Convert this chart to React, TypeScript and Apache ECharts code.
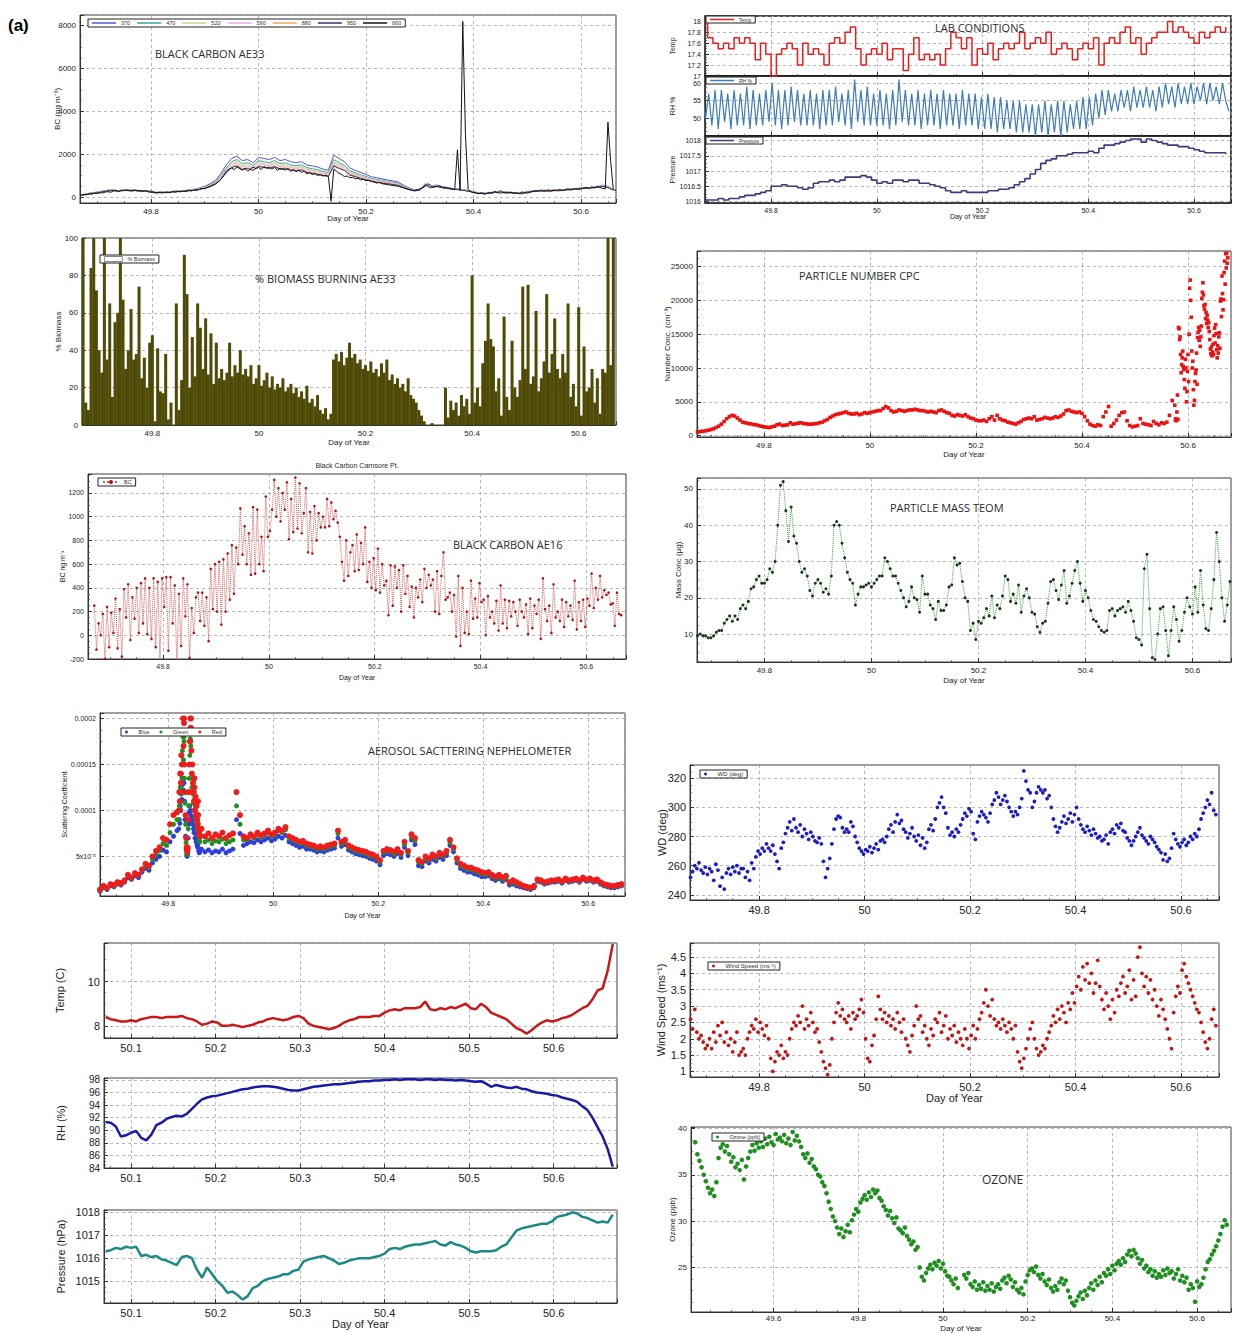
import { useEffect, useRef } from "react";
import * as echarts from "echarts";

const FONT = "'Liberation Sans', Arial, Helvetica, sans-serif";
const HEAD_FONT = "'Open Sans', 'Liberation Sans', sans-serif";

/* ---------------- Black carbon, AE33 aethalometer (ng m-3) ---------------- */
const AE33_T0 = 49.67;
const AE33_DT = 0.01; // 370 ... 950 nm channels
const AE33_DT_FINE = 0.005; // 660 nm channel
const ae33Channels = ["370", "470", "520", "590", "880", "950", "660"];
const ae33Bc370 = [
  100, 150, 200, 230, 280, 320, 330, 300, 340, 320,
  330, 300, 300, 240, 220, 240, 230, 270, 280, 300,
  330, 360, 420, 500, 620, 780, 1100, 1500, 1800, 1900,
  1700, 1750, 1600, 1850, 1800, 1750, 1850, 1700, 1750, 1650,
  1600, 1650, 1500, 1450, 1400, 1300, 1250, 1950, 1800, 1650,
  1350, 1250, 1150, 1050, 950, 900, 850, 800, 750, 700,
  550, 420, 330, 350, 620, 480, 560, 500, 450, 400,
  380, 350, 300, 250, 200, 180, 200, 250, 220, 240,
  220, 200, 180, 260, 280, 300, 320, 300, 330, 320,
  350, 380, 400, 420, 430, 450, 480, 550, 500, 350,
];
const ae33Bc470 = [
  90, 140, 190, 220, 270, 310, 320, 290, 330, 310,
  320, 290, 290, 230, 210, 230, 220, 260, 270, 290,
  320, 350, 400, 470, 580, 720, 1000, 1350, 1650, 1750,
  1550, 1600, 1480, 1700, 1650, 1600, 1700, 1560, 1600, 1500,
  1460, 1500, 1370, 1320, 1280, 1190, 1150, 1750, 1600, 1480,
  1220, 1130, 1040, 960, 870, 820, 780, 730, 690, 640,
  500, 390, 310, 340, 600, 460, 540, 480, 430, 390,
  370, 340, 290, 240, 190, 170, 190, 240, 210, 230,
  210, 190, 170, 250, 270, 290, 310, 290, 320, 310,
  340, 370, 390, 410, 420, 440, 470, 530, 480, 340,
];
const ae33Bc520 = [
  90, 135, 185, 215, 265, 305, 315, 285, 325, 305,
  315, 285, 285, 225, 205, 225, 215, 255, 265, 285,
  310, 340, 390, 450, 550, 690, 950, 1280, 1560, 1650,
  1460, 1510, 1400, 1610, 1560, 1510, 1610, 1470, 1510, 1420,
  1380, 1420, 1300, 1250, 1210, 1130, 1090, 1650, 1510, 1400,
  1150, 1070, 990, 910, 830, 780, 740, 700, 660, 610,
  480, 380, 300, 330, 590, 450, 530, 470, 420, 380,
  360, 330, 280, 235, 185, 165, 185, 235, 205, 225,
  205, 185, 165, 245, 265, 285, 305, 285, 315, 305,
  335, 365, 385, 405, 415, 435, 465, 520, 470, 335,
];
const ae33Bc590 = [
  85, 130, 180, 210, 260, 300, 310, 280, 320, 300,
  310, 280, 280, 220, 200, 220, 210, 250, 260, 280,
  305, 330, 380, 440, 530, 660, 910, 1230, 1500, 1590,
  1400, 1450, 1350, 1550, 1500, 1450, 1550, 1410, 1450, 1370,
  1330, 1370, 1250, 1210, 1170, 1090, 1050, 1590, 1450, 1350,
  1110, 1030, 950, 880, 800, 750, 710, 670, 630, 590,
  470, 370, 295, 325, 580, 445, 520, 460, 415, 375,
  355, 325, 275, 230, 180, 160, 180, 230, 200, 220,
  200, 180, 160, 240, 260, 280, 300, 280, 310, 300,
  330, 360, 380, 400, 410, 430, 460, 510, 460, 330,
];
const ae33Bc880 = [
  80, 125, 175, 205, 255, 295, 305, 275, 315, 295,
  305, 275, 275, 215, 195, 215, 205, 245, 255, 275,
  300, 320, 360, 420, 500, 620, 860, 1160, 1420, 1500,
  1320, 1370, 1280, 1460, 1420, 1370, 1460, 1330, 1370, 1300,
  1260, 1300, 1180, 1140, 1100, 1030, 990, 1500, 1370, 1280,
  1050, 980, 900, 830, 760, 710, 670, 640, 600, 560,
  450, 360, 290, 320, 570, 440, 510, 450, 410, 370,
  350, 320, 270, 225, 175, 155, 175, 225, 195, 215,
  195, 175, 155, 235, 255, 275, 295, 275, 305, 295,
  325, 355, 375, 395, 405, 425, 455, 500, 450, 325,
];
const ae33Bc950 = [
  80, 120, 170, 200, 250, 290, 300, 270, 310, 290,
  300, 270, 270, 210, 190, 210, 200, 240, 250, 270,
  295, 315, 350, 410, 480, 600, 830, 1120, 1370, 1450,
  1280, 1330, 1240, 1420, 1380, 1330, 1420, 1290, 1330, 1260,
  1220, 1260, 1140, 1100, 1060, 1000, 960, 1450, 1330, 1240,
  1020, 950, 870, 800, 740, 690, 650, 620, 580, 540,
  440, 350, 285, 315, 560, 430, 500, 440, 400, 360,
  345, 315, 265, 220, 170, 150, 170, 220, 190, 210,
  190, 170, 150, 230, 250, 270, 290, 270, 300, 290,
  320, 350, 370, 390, 400, 420, 450, 490, 440, 320,
];
const ae33Bc660 = [
  80, 120, 100, 150, 130, 180, 160, 200, 190, 230,
  250, 220, 280, 300, 260, 310, 290, 330, 300, 280,
  320, 290, 310, 270, 300, 260, 280, 230, 200, 220,
  190, 210, 230, 200, 250, 220, 260, 240, 280, 260,
  300, 280, 330, 310, 360, 400, 380, 450, 500, 560,
  620, 700, 820, 1000, 1200, 1300, 1350, 1280, 1400, 1320,
  1250, 1350, 1200, 1300, 1400, 1330, 1380, 1280, 1420, 1350,
  1400, 1300, 1380, 1250, 1350, 1300, 1260, 1320, 1200, 1280,
  1180, 1250, 1150, 1200, 1080, 1150, 1050, 1100, 1000, 1050,
  980, 1020, 950, -200, 1300, 1200, 1100, 1050, 950, 980,
  900, 920, 850, 880, 800, 820, 760, 780, 720, 700,
  650, 680, 620, 600, 580, 560, 540, 520, 500, 460,
  420, 380, 350, 320, 300, 340, 380, 420, 500, 620,
  550, 450, 480, 520, 480, 420, 450, 400, 380, 350,
  2200, 300, 8200, 2900, 350, 250, 200, 180, 150, 200,
  130, 170, 220, 180, 260, 200, 300, 220, 180, 200,
  220, 180, 200, 160, 240, 200, 180, 220, 260, 300,
  280, 320, 260, 300, 340, 280, 320, 300, 350, 300,
  340, 380, 320, 360, 400, 350, 380, 420, 450, 400,
  480, 420, 500, 450, 400, 380, 3500, 1700, 350, 300,
];

/* ---------------- % biomass burning, AE33 ---------------- */
const BIO_T0 = 49.67;
const BIO_DT = 0.005;
const biomassPct = [
  100, 12, 8, 84, 100, 72, 40, 28, 100, 35,
  65, 15, 55, 60, 100, 67, 30, 40, 62, 35,
  38, 74, 25, 36, 20, 44, 48, 2, 41, 18,
  17, 38, 3, 12, 0, 65, 8, 24, 91, 70,
  20, 47, 26, 65, 52, 30, 57, 27, 49, 22,
  44, 25, 30, 24, 28, 44, 26, 32, 28, 40,
  27, 30, 26, 32, 22, 25, 32, 21, 24, 28,
  20, 26, 19, 22, 20, 25, 18, 20, 22, 17,
  20, 15, 18, 14, 21, 12, 14, 10, 16, 8,
  6, 9, 3, 6, 35, 38, 34, 39, 32, 36,
  44, 36, 38, 33, 35, 30, 32, 29, 34, 28,
  30, 26, 33, 28, 35, 24, 27, 22, 25, 20,
  22, 18, 25, 16, 14, 12, 8, 5, 2, 0,
  0, 1, 0, 0, 0, 0, 20, 4, 13, 8,
  12, 5, 16, 10, 14, 6, 80, 12, 20, 10,
  33, 45, 65, 46, 42, 18, 25, 5, 58, 15,
  8, 45, 20, 15, 24, 74, 30, 75, 22, 26,
  61, 18, 25, 34, 70, 28, 38, 57, 30, 25,
  38, 28, 65, 15, 22, 10, 63, 5, 42, 18,
  20, 30, 12, 25, 6, 30, 28, 100, 32, 100,
];

/* ---------------- Black carbon, AE16 (ng m-3) ---------------- */
const AE16_T0 = 49.67;
const AE16_DT = 0.004;
const ae16Bc = [
  250, -120, 100, 0, 180, -200, 240, -100, 190, 20, 310, -110, 220, -180, 390, 150, 430, -40, 320, 140, 400, 20, 440, 100, 480,
  10, 400, -30, 480, -100, 450, -220, 480, 240, 490, -130, 490, 100, 420, -250, 350, -90, 480, 160, 430, -190, 230, 20, 320, 360,
  120, 360, 80, 320, -50, 560, 220, 600, 200, 620, 90, 640, 200, 690, 300, 760, 350, 740, 600, 1070, 680, 920, 600, 860, 510,
  1080, 520, 1060, 600, 830, 540, 1170, 830, 880, 1060, 1310, 1000, 1240, 960, 1200, 1060, 1290, 810, 1150, 870, 1330, 900, 1280, 860, 1030,
  1240, 700, 1040, 690, 1090, 800, 1030, 910, 1000, 910, 1150, 920, 1120, 980, 1050, 950, 830, 620, 460, 800, 500, 700, 760, 540, 850,
  550, 780, 600, 910, 450, 620, 400, 650, 380, 730, 360, 600, 420, 460, 170, 590, 250, 580, 400, 550, 200, 590, 350, 500, 240,
  410, 150, 400, 320, 470, 280, 560, 400, 510, 420, 470, 200, 540, 180, 500, 700, 300, 320, 360, 200, 340, -10, 500, -90, 400,
  20, 200, 10, 460, 140, 310, 150, 440, 280, 300, 0, 330, 150, 200, 100, 290, 40, 420, 100, 300, 60, 290, 160, 280, 200,
  80, 300, 200, 150, 260, 10, 310, 60, 250, 180, 300, -30, 480, 220, 120, 250, 20, 430, 150, 200, 120, 300, 70, 280, 160,
  250, 130, 460, 50, 280, 120, 300, 70, 310, 250, 520, 230, 400, 300, 500, 320, 380, 340, 360, 260, 270, 80, 360, 180, 170,
];

/* ---------------- Nephelometer scattering (Mm-1, i.e. 1e-6 m-1) ---------------- */
const NEPH_T0 = 49.67;
const NEPH_DT = 1 / 150;
const nephBlue = [
  12, 16, 14, 18, 17, 20, 19, 22, 27, 25,
  29, 27, 33, 37, 35, 43, 47, 50, 57, 55,
  66, 72, 78, 110, 135, 55, 90, 100, 80, 58,
  55, 57, 54, 56, 55, 58, 54, 56, 58, 90,
  75, 62, 64, 66, 65, 68, 66, 68, 70, 67,
  69, 72, 70, 73, 66, 64, 62, 60, 61, 58,
  58, 57, 55, 56, 55, 57, 58, 59, 70, 61,
  63, 57, 55, 53, 52, 51, 50, 48, 47, 45,
  41, 51, 53, 52, 50, 53, 49, 60, 51, 68,
  63, 40, 39, 45, 43, 47, 45, 49, 47, 51,
  62, 55, 43, 37, 35, 33, 33, 31, 30, 28,
  28, 29, 26, 24, 26, 23, 25, 19, 20, 18,
  17, 16, 15, 14, 16, 23, 22, 20, 21, 22,
  22, 23, 21, 24, 22, 23, 24, 22, 25, 23,
  24, 22, 23, 20, 18, 17, 16, 16, 17, 18,
];
const nephGreen = [
  13, 17, 15, 19, 18, 21, 20, 23, 29, 26,
  31, 29, 35, 40, 38, 47, 52, 56, 64, 62,
  76, 85, 90, 125, 180, 58, 175, 120, 95, 72,
  66, 68, 64, 67, 66, 69, 64, 66, 68, 105,
  85, 68, 68, 72, 70, 74, 71, 73, 76, 72,
  74, 78, 76, 79, 70, 68, 66, 64, 65, 62,
  61, 60, 58, 59, 58, 60, 61, 62, 75, 64,
  66, 60, 58, 56, 55, 54, 53, 51, 50, 48,
  44, 54, 56, 55, 53, 56, 52, 63, 54, 71,
  67, 44, 42, 48, 46, 50, 48, 52, 50, 54,
  65, 58, 46, 40, 38, 36, 36, 34, 33, 31,
  30, 31, 28, 26, 28, 25, 27, 21, 22, 20,
  19, 17, 16, 15, 17, 24, 23, 21, 22, 23,
  23, 24, 22, 25, 23, 24, 25, 23, 26, 24,
  25, 23, 24, 21, 19, 18, 17, 17, 18, 19,
];
const nephRed = [
  14, 18, 16, 20, 19, 22, 21, 24, 30, 27,
  32, 30, 36, 42, 40, 50, 56, 60, 70, 68,
  85, 95, 98, 140, 200, 60, 200, 135, 110, 80,
  72, 75, 70, 74, 72, 76, 70, 73, 75, 120,
  95, 72, 70, 74, 72, 76, 73, 75, 78, 74,
  76, 80, 78, 82, 72, 70, 68, 66, 67, 64,
  63, 62, 60, 61, 60, 62, 63, 64, 78, 66,
  68, 62, 60, 58, 57, 56, 55, 53, 52, 50,
  46, 56, 58, 57, 55, 58, 54, 66, 56, 74,
  70, 46, 44, 50, 48, 52, 50, 54, 52, 56,
  68, 60, 48, 42, 40, 38, 38, 36, 35, 33,
  32, 33, 30, 28, 30, 27, 29, 22, 24, 22,
  20, 18, 17, 16, 18, 25, 24, 22, 23, 24,
  24, 25, 23, 26, 24, 25, 26, 24, 27, 25,
  26, 24, 25, 22, 20, 19, 18, 18, 19, 20,
];
// one-minute values through the twin plume peaks
const NEPH_PEAK_T0 = 49.82;
const NEPH_PEAK_DT = 0.001;
const nephBluePeak = [80, 90, 86, 105, 100, 118, 112, 128, 135, 122, 130, 110, 90, 72, 58, 52, 50, 52, 70, 85, 98, 105, 100, 95, 90, 88, 92, 85, 80, 76, 82, 70, 75, 66, 70, 62, 60, 64, 56, 54, 55];
const nephGreenPeak = [90, 105, 100, 125, 118, 140, 135, 165, 180, 155, 175, 135, 108, 85, 65, 57, 52, 55, 80, 105, 135, 160, 178, 170, 150, 125, 135, 118, 108, 100, 112, 92, 104, 86, 95, 82, 78, 86, 72, 68, 66];
const nephRedPeak = [100, 120, 110, 140, 130, 160, 150, 185, 200, 170, 195, 150, 120, 95, 70, 60, 55, 58, 90, 120, 150, 175, 200, 190, 165, 140, 150, 130, 120, 110, 125, 100, 115, 95, 105, 90, 85, 95, 80, 75, 72];
const nephTickText: Record<number, string> = { 50: "5x10⁻⁵", 100: "0.0001", 150: "0.00015", 200: "0.0002" };

/* ---------------- Outdoor met station ---------------- */
const MET_T0 = 50.07;
const MET_DT = 0.006;
const metTempC = [
  8.4, 8.3, 8.25, 8.2, 8.2, 8.25, 8.2, 8.3, 8.35, 8.4,
  8.4, 8.35, 8.4, 8.4, 8.4, 8.45, 8.35, 8.3, 8.2, 8.05,
  8.1, 8.2, 8.15, 8.0, 8.0, 8.05, 8.0, 7.95, 8.0, 8.05,
  8.15, 8.2, 8.3, 8.35, 8.3, 8.25, 8.3, 8.4, 8.45, 8.35,
  8.1, 8.0, 7.95, 7.9, 7.85, 7.9, 8.0, 8.15, 8.25, 8.3,
  8.4, 8.4, 8.4, 8.45, 8.45, 8.6, 8.7, 8.75, 8.7, 8.8,
  8.8, 8.8, 8.85, 9.1, 8.75, 8.7, 8.8, 8.75, 8.85, 8.8,
  8.9, 9.0, 8.8, 8.75, 9.0, 8.85, 8.6, 8.5, 8.4, 8.3,
  8.1, 7.9, 7.8, 7.65, 7.8, 8.0, 8.15, 8.25, 8.2, 8.25,
  8.35, 8.4, 8.5, 8.65, 8.8, 8.9, 9.2, 9.6, 9.7, 10.5, 11.7,
];
const metRH = [
  91.3, 91.2, 90.6, 89.0, 89.2, 89.6, 89.9, 88.8, 88.4, 89.3,
  90.8, 91.2, 91.8, 92.1, 92.3, 92.2, 92.6, 93.4, 94.2, 94.9,
  95.2, 95.4, 95.5, 95.7, 95.9, 96.1, 96.3, 96.5, 96.6, 96.8,
  96.9, 97.0, 97.0, 96.9, 96.8, 96.6, 96.4, 96.3, 96.3, 96.5,
  96.7, 96.9, 97.0, 97.1, 97.2, 97.3, 97.3, 97.4, 97.5, 97.6,
  97.7, 97.8, 97.8, 97.9, 97.9, 98.0, 98.0, 98.1, 98.0, 98.1,
  98.1, 98.1, 98.0, 98.1, 98.1, 98.0, 98.1, 98.0, 98.0, 97.9,
  98.0, 97.9, 97.8, 97.7, 97.8, 97.4, 96.9, 97.2, 97.0, 96.8,
  96.7, 96.9, 96.6, 96.5, 96.2, 96.0, 95.9, 95.8, 95.6, 95.5,
  95.2, 95.0, 94.8, 94.5, 93.8, 93.2, 92.0, 90.5, 89.0, 87.0, 84.2,
];
const metPressure = [
  1016.3, 1016.35, 1016.45, 1016.4, 1016.5, 1016.45, 1016.5, 1016.1, 1016.15, 1016.05,
  1016.1, 1015.95, 1015.9, 1015.8, 1015.7, 1016.05, 1016.1, 1016.0, 1015.5, 1015.15,
  1015.6, 1015.3, 1015.0, 1014.8, 1014.5, 1014.55, 1014.4, 1014.2, 1014.35, 1014.7,
  1014.8, 1015.0, 1015.1, 1015.15, 1015.2, 1015.3, 1015.3, 1015.45, 1015.5, 1015.85,
  1015.95, 1016.0, 1016.05, 1016.1, 1016.0, 1015.9, 1015.75, 1015.8, 1015.9, 1015.95,
  1016.0, 1016.0, 1016.0, 1016.05, 1016.1, 1016.2, 1016.4, 1016.45, 1016.4, 1016.5,
  1016.55, 1016.6, 1016.6, 1016.65, 1016.7, 1016.75, 1016.6, 1016.55, 1016.7, 1016.6,
  1016.55, 1016.45, 1016.3, 1016.25, 1016.3, 1016.3, 1016.3, 1016.35, 1016.5, 1016.6,
  1016.9, 1017.2, 1017.3, 1017.35, 1017.4, 1017.45, 1017.5, 1017.5, 1017.6, 1017.8,
  1017.85, 1017.9, 1018.0, 1017.95, 1017.8, 1017.75, 1017.65, 1017.55, 1017.6, 1017.55, 1017.9,
];

/* ---------------- Laboratory conditions ---------------- */
const LAB_T0 = 49.67;
const LAB_DT = 0.01;
const LAB_RH_DT = 0.006;
const labTemp = [
  18.0, 17.7, 17.6, 17.5, 17.6, 17.5, 17.7, 17.6, 17.7, 17.6,
  17.3, 17.6, 17.4, 17.0, 17.4, 17.5, 17.6, 17.5, 17.2, 17.6,
  17.4, 17.5, 17.4, 17.2, 17.6, 17.7, 17.6, 17.8, 17.9, 17.5,
  17.2, 17.4, 17.5, 17.4, 17.6, 17.3, 17.5, 17.5, 17.1, 17.4,
  17.7, 17.3, 17.4, 17.3, 17.4, 17.2, 17.5, 17.8, 17.7, 17.5,
  17.7, 17.2, 17.5, 17.4, 17.6, 17.3, 17.5, 17.6, 17.5, 17.6,
  17.8, 17.5, 17.6, 17.7, 17.6, 17.8, 17.4, 17.5, 17.6, 17.5,
  17.3, 17.5, 17.6, 17.5, 17.7, 17.2, 17.6, 17.7, 17.6, 17.8,
  17.9, 17.6, 17.7, 17.4, 17.6, 17.7, 17.8, 17.8, 18.0, 17.8,
  17.9, 17.8, 17.7, 17.6, 17.8, 17.7, 17.8, 17.9, 17.8, 17.9,
];
const labRH = [
  56, 50, 57, 48, 58, 47, 58, 49, 57, 47, 58, 48, 57, 48, 59, 47, 58, 48, 57, 48,
  58, 49, 60, 48, 58, 47, 58, 48, 59, 49, 58, 48, 57, 48, 58, 48, 57, 47, 58, 48,
  58, 48, 59, 49, 57, 48, 58, 47, 61, 49, 58, 48, 59, 48, 57, 48, 58, 48, 57, 47,
  58, 48, 61, 49, 58, 48, 57, 48, 58, 47, 57, 48, 58, 48, 57, 47, 58, 48, 57, 48,
  57, 47, 58, 48, 57, 48, 57, 47, 56, 47, 57, 47, 56, 46, 56, 47, 55, 47, 55, 46,
  55, 46, 54, 46, 54, 45, 54, 46, 55, 45, 54, 46, 55, 45, 55, 46, 54, 47, 55, 47,
  56, 47, 56, 48, 57, 50, 58, 51, 58, 52, 57, 52, 58, 53, 58, 52, 59, 53, 58, 53,
  59, 53, 58, 52, 59, 53, 60, 54, 59, 53, 60, 54, 59, 54, 60, 54, 59, 55, 60, 54, 60, 55, 59, 54, 60, 55, 52,
];
const labPressure = [
  1016.05, 1016.05, 1016.05, 1016.1, 1016.05, 1016.1, 1016.1, 1016.15, 1016.2, 1016.2,
  1016.25, 1016.3, 1016.35, 1016.5, 1016.5, 1016.55, 1016.5, 1016.5, 1016.45, 1016.4,
  1016.45, 1016.6, 1016.65, 1016.65, 1016.7, 1016.65, 1016.7, 1016.8, 1016.8, 1016.8,
  1016.85, 1016.8, 1016.7, 1016.6, 1016.65, 1016.6, 1016.7, 1016.7, 1016.65, 1016.7,
  1016.7, 1016.6, 1016.6, 1016.55, 1016.5, 1016.45, 1016.35, 1016.3, 1016.3, 1016.35,
  1016.3, 1016.3, 1016.3, 1016.3, 1016.35, 1016.35, 1016.4, 1016.4, 1016.45, 1016.55,
  1016.65, 1016.75, 1016.9, 1017.05, 1017.25, 1017.35, 1017.4, 1017.5, 1017.5, 1017.55,
  1017.6, 1017.6, 1017.6, 1017.65, 1017.6, 1017.75, 1017.85, 1017.85, 1017.9, 1017.95,
  1018.0, 1018.05, 1018.05, 1017.95, 1018.05, 1018.0, 1017.95, 1017.9, 1017.85, 1017.85,
  1017.8, 1017.8, 1017.75, 1017.7, 1017.65, 1017.6, 1017.6, 1017.6, 1017.6, 1017.55,
];

/* ---------------- Particle number, CPC (cm-3) ---------------- */
const CPC_T0 = 49.67;
const CPC_DT = 0.005;
const CPC_BURST_T0 = 50.576;
const CPC_BURST_DT = 0.001;
const cpcNumber = [
  500, 550, 600, 650, 700, 800, 900, 1000, 1200, 1400,
  1700, 2100, 2500, 2800, 3000, 2900, 2600, 2300, 2000, 1900,
  1800, 1750, 1650, 1600, 1500, 1400, 1300, 1250, 1200, 1300,
  1400, 1600, 1700, 1500, 1550, 1600, 1900, 1700, 1750, 1850,
  1900, 1800, 1750, 1700, 1700, 1750, 1800, 1900, 2000, 2200,
  2400, 2700, 2900, 3100, 3200, 3300, 3400, 3500, 3300, 3200,
  3200, 3300, 3100, 3200, 3400, 3300, 3400, 3500, 3600, 3700,
  3700, 4000, 4300, 4100, 3700, 3500, 3600, 3800, 3700, 3600,
  3700, 3800, 3800, 3900, 3800, 3700, 3700, 3600, 3500, 3600,
  3500, 3400, 3700, 3800, 3600, 3400, 3300, 3000, 2900, 3100,
  3000, 2900, 3100, 2800, 2600, 2500, 2300, 2200, 2200, 2300,
  2100, 2500, 2800, 2300, 3000, 2500, 2300, 2200, 2000, 1900,
  1800, 1700, 1900, 2100, 2400, 2500, 2600, 2500, 2800, 2300,
  2400, 2500, 2700, 2600, 2500, 2600, 2800, 2700, 2900, 3200,
  3700, 3800, 3600, 3500, 3400, 3500, 3300, 2800, 2200, 1700,
  1500, 1400, 1600, 1500, 2800, 3500, 4300, 1400, 1800, 2300,
  3000, 3400, 3500, 2200, 1500, 1300, 1400, 1500, 2500, 1800,
  1700, 1600, 1500, 2100, 1800, 1600, 1900, 1800, 2000, 3000,
  5200, 4500,
];
const cpcBurst = [
  2300, 2500, 2200, 3500, 6000, 2400, 16000, 15800, 14200, 14600,
  12000, 9300, 10500, 11500, 12500, 10200, 9800, 8300, 7000, 11300,
  10000, 5000, 6500, 9500, 12000, 8000, 15000, 21800, 23000, 20000,
  17500, 12500, 10000, 11000, 6800, 4500, 5200, 8000, 9200, 9700,
  12200, 7600, 14500, 15300, 16000, 14100, 15600, 13200, 14600, 16200,
  20300, 21200, 22600, 20800, 19200, 18700, 19400, 17300, 18200, 16600,
  17800, 17100, 16000, 16700, 15400, 14200, 12800, 12100, 13100, 11800,
  12400, 13500, 12000, 14800, 15900, 13700, 16400, 15100, 12700, 11500,
  13300, 12200, 14600, 15200, 12900, 19900, 20200, 17600, 23600, 21000,
  18600, 20100, 24100, 25800, 22400, 26900, 24800, 27000, 25500, 26300,
];

/* ---------------- Particle mass, TEOM (ug) ---------------- */
const TEOM_T0 = 49.67;
const TEOM_DT = 0.005;
const teomMass = [
  8, 9.5, 10, 9.5, 9.5, 9, 9, 9.5, 10.5, 11,
  11, 13, 14, 15, 13.5, 15, 14, 17, 18, 17,
  19, 22.5, 23, 25, 26, 24, 24, 25, 28, 27,
  30, 40, 51, 52, 44, 35.5, 45, 37, 35, 30,
  27, 28, 26, 22, 20.5, 24, 25, 24, 21.5, 22.5,
  21, 26, 40, 41, 40, 35, 31, 27, 25, 24,
  18, 21, 23, 23, 23.5, 24, 23, 24, 25, 26,
  26, 31, 30, 28, 26, 26, 24, 22, 20, 17.5,
  19, 23, 20, 19.5, 16, 26, 21, 21, 18, 17,
  14, 19, 16.5, 16.5, 18, 23, 23.5, 31, 29, 29.5,
  24.5, 20, 19, 11, 13, 8.5, 13.5, 13, 14.5, 17,
  15, 20.5, 14.5, 18, 17, 20.5, 26, 25, 19, 21,
  18.5, 23.5, 16, 20.5, 22.5, 20, 16, 15.5, 12, 10.5,
  13, 13.5, 18.5, 24.5, 25, 22, 19.5, 23.5, 27.5, 18.5,
  20.5, 24, 27.5, 30, 24, 19, 22, 20, 16.5, 14,
  13.5, 12, 11, 10.5, 11, 16.5, 17, 15, 16.5, 17,
  17.5, 16, 19, 16.5, 13.5, 9, 8.5, 7, 28, 32,
  17, 3.5, 3, 10, 17, 17.5, 11, 4, 11, 17.5,
  14, 8, 11, 16, 20, 17.5, 15.5, 23, 16, 27.5,
  18, 11.5, 11, 17, 25, 38, 30, 20, 13.5, 18, 24.5,
];

/* ---------------- Wind ---------------- */
const WIND_T0 = 49.67;
const WIND_DT = 0.004;
const windDir = [
  252, 256, 260, 258, 262, 257, 255, 259, 254, 258, 256, 250, 261, 257, 246, 252, 244, 255, 258, 254, 259, 256, 260, 255, 258,
  258, 252, 256, 250, 262, 258, 266, 270, 268, 272, 270, 275, 272, 270, 274, 268, 263, 258, 272, 276, 282, 286, 290, 284, 292,
  286, 283, 288, 280, 285, 282, 278, 283, 280, 277, 276, 279, 275, 263, 252, 258, 265, 275, 285, 292, 294, 293, 286, 283, 285,
  283, 290, 287, 280, 276, 272, 270, 268, 271, 270, 273, 269, 272, 275, 271, 277, 278, 276, 280, 285, 288, 283, 290, 295, 289,
  291, 285, 283, 279, 282, 286, 280, 277, 281, 274, 279, 272, 276, 285, 288, 284, 292, 300, 303, 307, 300, 296, 286, 281, 283,
  280, 285, 283, 288, 292, 296, 294, 299, 297, 282, 278, 290, 294, 297, 295, 293, 290, 296, 302, 305, 310, 307, 302, 305, 308,
  304, 300, 297, 294, 297, 295, 300, 306, 325, 318, 312, 310, 300, 304, 310, 314, 312, 310, 312, 306, 308, 300, 292, 287, 283,
  286, 290, 294, 289, 292, 296, 290, 295, 300, 292, 288, 285, 283, 287, 284, 281, 285, 282, 279, 280, 277, 278, 281, 275, 283,
  285, 282, 288, 286, 289, 284, 283, 279, 277, 274, 277, 280, 283, 286, 281, 279, 277, 275, 280, 278, 276, 273, 271, 269, 264,
  268, 263, 265, 272, 282, 278, 275, 273, 276, 278, 274, 276, 280, 278, 282, 280, 285, 292, 296, 300, 305, 302, 310, 298, 295,
];
const windSpeed = [
  2.6, 2.3, 2.9, 2.2, 2.0, 2.1, 1.9, 1.7, 1.8, 2.0, 1.7, 2.2, 1.9, 2.4, 2.1, 2.5, 1.9, 2.2, 1.8, 2.0, 1.6, 1.9, 2.2, 1.5, 1.6,
  1.7, 1.5, 2.0, 2.2, 2.4, 2.3, 2.6, 2.2, 2.5, 2.3, 2.1, 2.4, 2.0, 1.4, 1.0, 1.3, 1.6, 1.5, 1.8, 1.4, 1.6, 1.5, 2.0, 2.3, 2.5,
  2.4, 2.7, 2.5, 3.0, 2.3, 2.6, 2.4, 2.8, 2.5, 2.2, 2.3, 1.9, 1.6, 1.3, 1.1, 0.9, 1.2, 2.0, 2.5, 2.8, 3.1, 2.7, 2.9, 2.6, 2.5,
  2.7, 2.3, 2.8, 2.6, 2.7, 2.9, 3.2, 2.8, 2.0, 1.4, 1.3, 1.8, 2.1, 2.6, 3.3, 2.9, 2.6, 2.8, 2.5, 2.7, 2.4, 2.6, 2.3, 2.8, 2.5,
  2.2, 2.6, 2.0, 1.8, 1.6, 2.1, 2.4, 3.0, 2.6, 2.7, 2.2, 2.4, 2.0, 1.8, 2.3, 2.1, 2.6, 2.5, 2.8, 2.2, 2.4, 2.7, 2.0, 2.3, 2.1,
  2.4, 1.9, 2.2, 2.0, 1.8, 2.3, 2.0, 1.7, 2.1, 2.4, 2.0, 2.3, 2.6, 2.8, 3.1, 3.5, 3.0, 2.7, 3.2, 2.6, 2.4, 2.5, 2.3, 2.6, 2.4,
  2.2, 2.5, 2.3, 2.0, 2.4, 1.6, 1.3, 1.1, 1.4, 1.7, 2.0, 2.3, 2.5, 2.0, 1.7, 1.5, 1.6, 1.8, 1.7, 2.0, 2.2, 2.4, 2.7, 2.5, 2.9,
  2.6, 3.0, 2.8, 2.5, 3.1, 2.9, 3.4, 3.1, 3.6, 3.9, 3.5, 4.2, 3.8, 4.3, 3.7, 4.0, 3.4, 3.7, 4.4, 3.6, 3.2, 2.9, 3.4, 3.0, 2.6,
  3.2, 2.8, 3.5, 3.3, 3.7, 3.9, 3.4, 3.6, 4.1, 3.2, 3.8, 3.3, 4.5, 4.8, 4.0, 3.6, 3.9, 3.4, 3.8, 3.2, 3.5, 3.0, 2.7, 3.2, 2.9,
  2.6, 2.3, 2.0, 1.7, 2.8, 3.3, 3.6, 3.4, 4.1, 4.3, 3.9, 3.7, 3.5, 3.3, 3.1, 2.9, 2.8, 2.5, 2.2, 1.9, 1.7, 2.0, 2.6, 2.9, 2.4,
];

/* ---------------- Ozone (ppb) ---------------- */
const OZ_T0 = 49.415;
const OZ_DT = 0.005;
const ozonePpb: (number | null)[] = [
  38.5, 37.2, 36.5, 35.8, 35.0, 34.3, 33.6, 33.0, 33.4, 32.7, 34.2, 36.8, 37.9, 38.3, 37.5, 38.1, 37.2, 36.4, 36.9, 35.8,
  36.2, 35.5, 36.6, 34.5, 35.9, 36.8, 37.5, 38.2, 37.6, 38.4, 37.9, 38.6, 38.0, 38.9, 38.3, 39.1, 38.5, 38.2, 39.4, 38.8,
  39.0, 38.6, 39.3, 38.4, 38.9, 38.2, 39.6, 38.7, 39.2, 38.6, 38.0, 37.2, 36.8, 37.3, 36.3, 36.7, 35.9, 35.6, 35.0, 34.8,
  34.2, 33.8, 33.0, 32.1, 31.3, 30.5, 30.0, 29.3, 28.6, 29.2, 28.3, 28.9, 29.6, 28.8, 30.1, 30.7, 31.3, 31.0, 32.0, 32.4,
  32.8, 32.3, 33.1, 32.6, 33.4, 33.0, 33.3, 32.5, 32.2, 31.6, 31.2, 30.6, 31.1, 30.3, 29.8, 30.4, 29.2, 29.0, 28.7, 29.3,
  28.4, 28.0, 27.5, 27.8, 26.9, 27.2, 25.0, 24.0, 23.6, 24.4, 24.9, 25.3, 24.8, 25.5, 25.2, 25.7, 24.9, 25.4, 24.6, 24.1,
  24.0, 23.6, 23.2, 23.8, 22.8, null, null, 24.2, 23.8, 24.4, 23.2, 22.9, 23.5, 22.6, 23.1, 22.7, 23.4, 22.5, 23.0, 22.6,
  23.3, 22.4, 22.9, 23.2, 22.7, 23.6, 23.9, 23.3, 24.1, 23.7, 22.9, 23.4, 22.6, 22.3, 22.8, 22.1, 23.5, 24.2, 24.7, 24.9,
  24.5, 25.1, 24.2, 23.8, 24.3, 23.5, 23.1, 23.7, 22.8, 22.4, 23.0, 22.6, 23.4, 23.8, 23.2, 23.6, 22.5, 21.8, 21.2, 20.9,
  21.4, 21.9, 22.3, 21.6, 22.5, 22.0, 22.8, 23.3, 22.6, 23.6, 23.1, 24.0, 23.4, 24.4, 24.1, 24.8, 24.3, 25.2, 24.7, 25.4,
  25.7, 25.3, 26.0, 25.6, 26.4, 26.8, 26.2, 26.9, 26.5, 26.0, 25.4, 25.8, 24.9, 25.2, 24.5, 24.8, 24.1, 24.6, 23.9, 24.3,
  24.0, 24.7, 24.2, 24.9, 24.4, 24.6, 23.8, 24.3, 24.8, 23.6, 24.1, 23.4, 23.9, 22.6, 23.2, 22.8, 21.3, 23.5, 22.9, 23.2,
  23.9, 24.8, 25.6, 25.9, 26.4, 26.8, 27.3, 27.9, 28.6, 29.4, 30.1, 29.6,
];

/* ---------------- helpers ---------------- */
type Spec = {
  min: number;
  max: number;
  step: number;
  showMin?: boolean;
  showMax?: boolean;
  size?: number;
  margin?: number;
  name?: string;
  gap?: number;
  nameSize?: number;
  hide?: boolean;
  fmt?: (v: number) => string;
};

// Regularly sampled record -> [day, value] pairs (gaps are null)
function timeSeries(t0: number, dt: number, vals: (number | null)[]) {
  const out: number[][] = [];
  vals.forEach((v, i) => {
    if (v !== null && v !== undefined) out.push([Math.round((t0 + dt * i) * 1e5) / 1e5, v]);
  });
  return out;
}

function makeAxis(gridIndex: number, s: Spec) {
  return {
    type: "value",
    gridIndex,
    min: s.min,
    max: s.max,
    minInterval: s.step,
    maxInterval: s.step,
    name: s.name ?? "",
    nameLocation: "middle",
    nameGap: s.gap ?? 20,
    nameMoveOverlap: false,
    nameTextStyle: { fontSize: s.nameSize ?? 8, color: "#222", fontFamily: FONT },
    axisLine: { show: true, onZero: false, lineStyle: { color: "#333", width: 1 } },
    axisTick: { show: true, inside: true, length: 4, lineStyle: { color: "#333", width: 1 } },
    minorTick: { show: true, splitNumber: 4, length: 2, lineStyle: { color: "#555", width: 0.8 } },
    axisLabel: {
      show: !s.hide,
      fontSize: s.size ?? 8,
      color: "#222",
      fontFamily: FONT,
      margin: s.margin ?? 4,
      showMinLabel: !!s.showMin,
      showMaxLabel: !!s.showMax,
      formatter: s.fmt ?? ((v: number) => String(v)),
    },
    splitLine: { show: true, lineStyle: { color: "#a5a5a5", width: 0.8, type: [3, 3] } },
  };
}

function buildOption() {
  const grid: any[] = [];
  const xAxis: any[] = [];
  const yAxis: any[] = [];
  const series: any[] = [];
  const legend: any[] = [];
  const graphic: any[] = [];

  const panel = (box: number[], x: Spec, y: Spec, frame = "#3a3a3a", frameW = 1) => {
    const i = grid.length;
    grid.push({
      left: box[0],
      top: box[1],
      width: box[2] - box[0],
      height: box[3] - box[1],
      show: true,
      borderColor: frame,
      borderWidth: frameW,
      backgroundColor: "#fff",
      containLabel: false,
      outerBoundsMode: "none",
    });
    xAxis.push(makeAxis(i, x));
    yAxis.push(makeAxis(i, y));
    return i;
  };
  const add = (i: number, s: any) =>
    series.push({ xAxisIndex: i, yAxisIndex: i, animation: false, silent: true, emphasis: { disabled: true }, ...s });
  const line = (i: number, name: string, data: number[][], color: string, width: number, extra: any = {}) =>
    add(i, { type: "line", name, data, symbol: "none", lineStyle: { color, width }, itemStyle: { color }, ...extra });
  const dots = (i: number, name: string, data: number[][], color: string, size: number, extra: any = {}) =>
    add(i, { type: "scatter", name, data, symbol: "circle", symbolSize: size, itemStyle: { color, opacity: 1 }, ...extra });
  const box = (names: any[], left: number, top: number, o: any = {}) =>
    legend.push({
      show: true,
      data: names,
      left,
      top,
      orient: "horizontal",
      itemWidth: o.w ?? 22,
      itemHeight: o.h ?? 6,
      itemGap: o.gap ?? 8,
      padding: [1, 4, 1, 4],
      borderColor: "#222",
      borderWidth: 1,
      borderRadius: 0,
      backgroundColor: "#fff",
      selectedMode: false,
      textStyle: { fontSize: o.fs ?? 5.5, fontFamily: FONT, color: "#333" },
      z: 10,
    });
  const lineKey = (n: string) => ({ name: n, icon: "rect" });
  const text = (t: string, x: number, y: number, size = 11, extra: any = {}) =>
    graphic.push({
      type: "text",
      x,
      y,
      z: 100,
      silent: true,
      style: { text: t, fontSize: size, fontFamily: HEAD_FONT, fill: "#2b2b2b", verticalAlign: "middle", align: "left", ...extra },
    });
  const day = (min: number, max: number, o: Partial<Spec> = {}): Spec => ({ min, max, step: 0.2, ...o });

  /* ---- left column ---- */
  const pAE33 = panel(
    [80, 15, 616, 203],
    day(49.668, 50.665, { name: "Day of Year", gap: 11 }),
    { min: -280, max: 8500, step: 2000, name: "BC (ng m⁻³)", gap: 19 }
  );
  const ae33Colors = ["#5555e0", "#35a98f", "#cfcf8a", "#eeaaee", "#f0a458", "#34346a", "#141414"];
  const ae33Sets = [ae33Bc370, ae33Bc470, ae33Bc520, ae33Bc590, ae33Bc880, ae33Bc950];
  ae33Channels.forEach((ch, k) => {
    const data = ch === "660" ? timeSeries(AE33_T0, AE33_DT_FINE, ae33Bc660) : timeSeries(AE33_T0, AE33_DT, ae33Sets[k]);
    line(pAE33, ch, data, ae33Colors[k], 1);
  });
  box(ae33Channels.map(lineKey), 88, 19, { w: 24, h: 1.5, gap: 7 });
  text("BLACK CARBON AE33", 155, 53);

  const pBio = panel(
    [82, 238, 616, 425],
    day(49.668, 50.67, { name: "Day of Year", gap: 13 }),
    { min: 0, max: 100, step: 20, showMin: true, showMax: true, name: "% Biomass", gap: 20 }
  );
  add(pBio, {
    type: "bar",
    name: "% Biomass",
    data: timeSeries(BIO_T0, BIO_DT, biomassPct),
    barWidth: 3,
    itemStyle: { color: "#4f4a06" },
  });
  box([{ name: "% Biomass", icon: "rect", itemStyle: { color: "#fff", borderColor: "#666", borderWidth: 0.8 } }], 100, 255, {
    w: 18,
    h: 5,
  });
  text("% BIOMASS BURNING AE33", 255, 278);

  const pAE16 = panel(
    [88, 474, 626, 659],
    day(49.658, 50.675, { name: "Day of Year", gap: 15, size: 7, nameSize: 7 }),
    { min: -200, max: 1360, step: 200, showMin: true, name: "BC ng m⁻³", gap: 22, size: 7, nameSize: 7 }
  );
  add(pAE16, {
    type: "line",
    name: "BC",
    data: timeSeries(AE16_T0, AE16_DT, ae16Bc),
    symbol: "circle",
    symbolSize: 2.6,
    showSymbol: true,
    lineStyle: { color: "#dd5a5a", width: 1, type: "dotted" },
    itemStyle: { color: "#b40f0f" },
  });
  box(["BC"], 98, 478, { w: 16, h: 5, fs: 5.5 });
  text("BLACK CARBON AE16", 453, 544);
  text("Black Carbon Carnsore Pt.", 357, 465, 7, { align: "center", fontFamily: FONT });

  const pNeph = panel(
    [100, 713, 625, 896],
    day(49.67, 50.67, { name: "Day of Year", gap: 16, size: 7, nameSize: 7 }),
    { min: 7, max: 206, step: 50, name: "Scattering Coefficient", gap: 32, size: 7, nameSize: 7, fmt: (v) => nephTickText[v] ?? "" }
  );
  const nephLayers = [
    { name: "Blue", base: nephBlue, peak: nephBluePeak, color: "#2a3ee0", size: 5 },
    { name: "Green", base: nephGreen, peak: nephGreenPeak, color: "#1f8f1f", size: 5 },
    { name: "Red", base: nephRed, peak: nephRedPeak, color: "#f01c1c", size: 6 },
  ];
  nephLayers.forEach((l) => {
    const data = timeSeries(NEPH_T0, NEPH_DT, l.base)
      .concat(timeSeries(NEPH_PEAK_T0, NEPH_PEAK_DT, l.peak))
      .sort((a, b) => a[0] - b[0]);
    dots(pNeph, l.name, data, l.color, l.size);
  });
  box(
    ["Blue", "Green", "Red"].map((n) => ({ name: n, icon: "circle" })),
    121,
    728,
    { w: 14, h: 3, gap: 10 }
  );
  text("AEROSOL SACTTERING NEPHELOMETER", 368, 750);

  const metX = (o: Partial<Spec> = {}): Spec => ({ min: 50.068, max: 50.675, step: 0.1, size: 11, ...o });
  const pTemp = panel([104, 943, 617, 1038], metX(), {
    min: 7.45,
    max: 11.75,
    step: 2,
    name: "Temp (C)",
    gap: 39,
    size: 11,
    nameSize: 11,
  });
  line(pTemp, "Temp (C)", timeSeries(MET_T0, MET_DT, metTempC), "#c81818", 2.5);

  const pRH = panel([104, 1078, 617, 1168], metX(), {
    min: 84,
    max: 98.3,
    step: 2,
    showMin: true,
    name: "RH (%)",
    gap: 38,
    size: 10,
    nameSize: 11,
  });
  line(pRH, "RH (%)", timeSeries(MET_T0, MET_DT, metRH), "#1a1aa8", 2.5);

  const pPres = panel([104, 1210, 617, 1303], metX({ name: "Day of Year", gap: 15, nameSize: 11 }), {
    min: 1014.05,
    max: 1018.1,
    step: 1,
    name: "Pressure (hPa)",
    gap: 38,
    size: 11,
    nameSize: 11,
  });
  line(pPres, "Pressure (hPa)", timeSeries(MET_T0, MET_DT, metPressure), "#1b8a84", 2.5);

  /* ---- right column ---- */
  const labX = (o: Partial<Spec> = {}) => day(49.675, 50.67, { size: 7, nameSize: 7, ...o });
  const pLabT = panel([705, 16, 1231, 76], labX({ hide: true }), {
    min: 17,
    max: 18.1,
    step: 0.2,
    showMin: true,
    name: "Temp",
    gap: 29,
    size: 7,
    nameSize: 7,
  }, "#111", 1.5);
  line(pLabT, "Temp", timeSeries(LAB_T0, LAB_DT, labTemp), "#ee1c1c", 1.5, { step: "end" });
  const pLabRH = panel([705, 76, 1231, 136], labX({ hide: true }), {
    min: 45,
    max: 62,
    step: 5,
    name: "RH %",
    gap: 29,
    size: 7,
    nameSize: 7,
  }, "#111", 1.5);
  line(pLabRH, "RH %", timeSeries(LAB_T0, LAB_RH_DT, labRH), "#3d7db8", 1.2);
  const pLabP = panel([705, 136, 1231, 203], labX({ name: "Day of Year", gap: 10 }), {
    min: 1015.95,
    max: 1018.15,
    step: 0.5,
    name: "Pressure",
    gap: 29,
    size: 7,
    nameSize: 7,
  }, "#111", 1.5);
  line(pLabP, "Pressure", timeSeries(LAB_T0, LAB_DT, labPressure), "#3b3b7e", 1.6, { step: "end" });
  box([lineKey("Temp")], 706, 16, { w: 24, h: 1.5, fs: 5 });
  box([lineKey("RH %")], 706, 77, { w: 24, h: 1.5, fs: 5 });
  box([lineKey("Pressure")], 706, 137, { w: 24, h: 1.5, fs: 5 });
  text("LAB CONDITIONS", 935, 27);

  const pCPC = panel(
    [697, 251, 1231, 437],
    day(49.674, 50.681, { name: "Day of Year", gap: 13 }),
    { min: -200, max: 27300, step: 5000, name: "Number Conc. (cm⁻³)", gap: 26 }
  );
  dots(pCPC, "Number Conc.", timeSeries(CPC_T0, CPC_DT, cpcNumber), "#ee1111", 3.6, { symbol: "rect" });
  dots(pCPC, "Number Conc. burst", timeSeries(CPC_BURST_T0, CPC_BURST_DT, cpcBurst), "#ee1111", 3.6, { symbol: "rect" });
  text("PARTICLE NUMBER CPC", 799, 275);

  const pTEOM = panel(
    [697, 478, 1231, 662],
    day(49.674, 50.672, { name: "Day of Year", gap: 14 }),
    { min: 2.3, max: 53, step: 10, name: "Mass Conc (µg)", gap: 15 }
  );
  add(pTEOM, {
    type: "line",
    name: "Mass Conc",
    data: timeSeries(TEOM_T0, TEOM_DT, teomMass),
    symbol: "circle",
    symbolSize: 3,
    showSymbol: true,
    lineStyle: { color: "#3f9f3f", width: 1, type: "dotted" },
    itemStyle: { color: "#1b331b" },
  });
  text("PARTICLE MASS TEOM", 890, 507);

  const windX = (o: Partial<Spec> = {}) => day(49.669, 50.672, { size: 11, nameSize: 11, ...o });
  const pWD = panel([690, 765, 1219, 900], windX(), {
    min: 236.5,
    max: 329,
    step: 20,
    name: "WD (deg)",
    gap: 23,
    size: 11,
    nameSize: 11,
  });
  dots(pWD, "WD (deg)", timeSeries(WIND_T0, WIND_DT, windDir), "#1c1cc8", 3.8);
  box([{ name: "WD (deg)", icon: "circle" }], 700, 770, { w: 14, h: 3, fs: 6 });

  const pWS = panel([690, 943, 1219, 1077], windX({ name: "Day of Year", gap: 15 }), {
    min: 0.83,
    max: 4.93,
    step: 0.5,
    name: "Wind Speed (ms⁻¹)",
    gap: 24,
    size: 11,
    nameSize: 11,
  });
  dots(pWS, "Wind Speed (ms⁻¹)", timeSeries(WIND_T0, WIND_DT, windSpeed), "#c41414", 3.8);
  box([{ name: "Wind Speed (ms⁻¹)", icon: "circle" }], 708, 962, { w: 14, h: 3, fs: 6 });

  const pO3 = panel(
    [691, 1127, 1231, 1312],
    day(49.405, 50.68, { name: "Day of Year", gap: 12, size: 8, nameSize: 8, margin: 2 }),
    { min: 20.2, max: 40.15, step: 5, name: "Ozone (ppb)", gap: 15, size: 8, nameSize: 8 }
  );
  dots(pO3, "Ozone (ppb)", timeSeries(OZ_T0, OZ_DT, ozonePpb), "#1f8f1f", 4.6);
  box([{ name: "Ozone (ppb)", icon: "circle" }], 712, 1133, { w: 14, h: 3, fs: 5.5 });
  text("OZONE", 982, 1179, 12);

  text("(a)", 8, 25, 17, { fontWeight: "bold", fontFamily: FONT, fill: "#000" });

  return {
    animation: false,
    backgroundColor: "#ffffff",
    textStyle: { fontFamily: FONT },
    grid,
    xAxis,
    yAxis,
    series,
    legend,
    graphic,
  };
}

export default function App() {
  const ref = useRef<HTMLDivElement>(null);
  useEffect(() => {
    if (!ref.current) return;
    const chart = echarts.init(ref.current, undefined, { renderer: "svg" });
    chart.setOption(buildOption() as any);
    return () => chart.dispose();
  }, []);
  return (
    <div
      ref={ref}
      style={{ position: "absolute", left: 0, top: 0, width: 1238, height: 1333, background: "#fff" }}
    />
  );
}
